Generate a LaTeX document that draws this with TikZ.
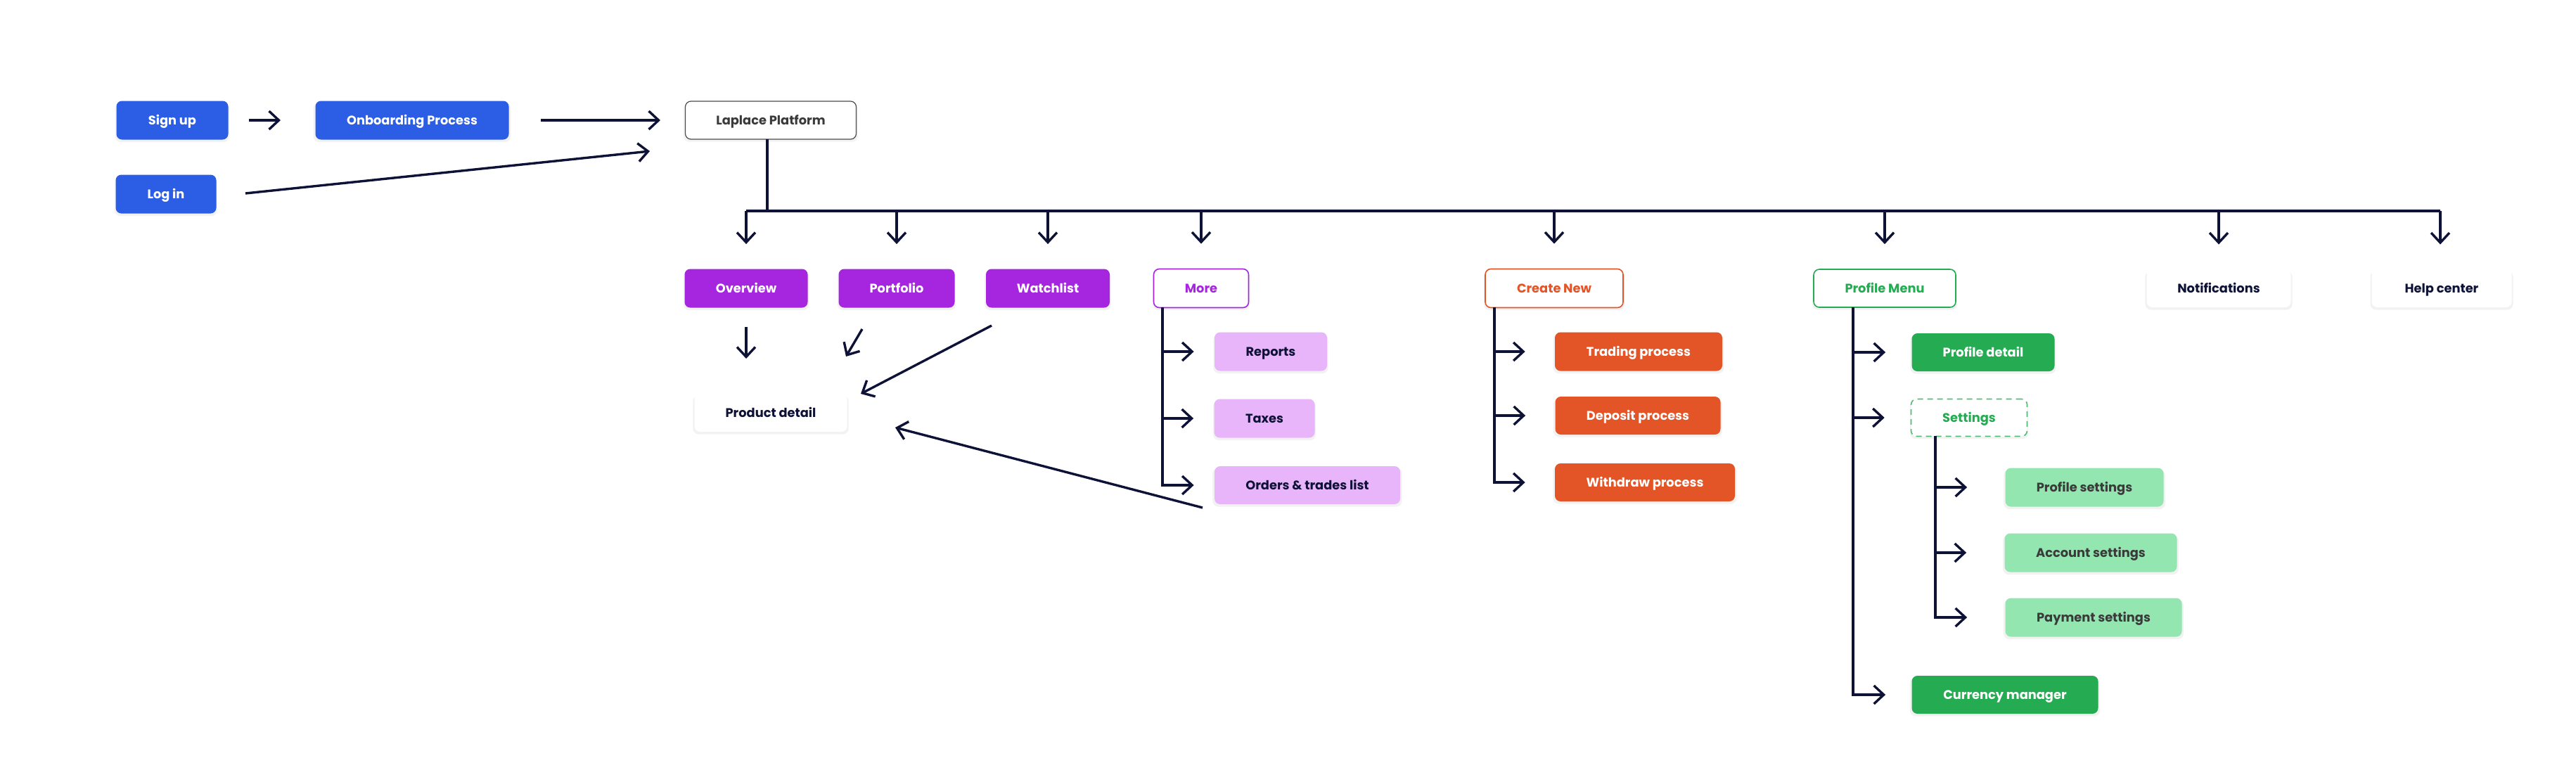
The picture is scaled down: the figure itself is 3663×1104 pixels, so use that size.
\documentclass[tikz,border=0pt]{standalone}
\usepackage{fontspec}
\setmainfont{Poppins}
\usetikzlibrary{arrows.meta,shadows,calc}
\definecolor{cblue}{HTML}{2B5DE5}
\definecolor{cpurple}{HTML}{A626E0}
\definecolor{clpurple}{HTML}{E8B5FA}
\definecolor{corange}{HTML}{E35427}
\definecolor{cgreen}{HTML}{25AC53}
\definecolor{clgreen}{HTML}{93E6B0}
\definecolor{cnavy}{HTML}{0E1236}
\definecolor{cgrey}{HTML}{3A3A3A}
\tikzset{
  box/.style={rounded corners=4pt, minimum height=27.5pt, inner sep=0pt, text height=7pt, text depth=0.5pt,
    font=\bfseries\fontsize{8.9}{10}\selectfont,
    drop shadow={opacity=0.10, shadow xshift=0pt, shadow yshift=-1.5pt, shadow scale=1.02}},
  bluebox/.style={box, fill=cblue, text=white},
  purplebox/.style={box, fill=cpurple, text=white},
  lpurplebox/.style={box, fill=clpurple, text=cnavy},
  orangebox/.style={box, fill=corange, text=white},
  greenbox/.style={box, fill=cgreen, text=white},
  lgreenbox/.style={box, fill=clgreen, text=cgrey},
  whitebox/.style={box, fill=white, text=cnavy},
  ln/.style={draw=cnavy, line width=1.7pt},
  arr/.style={ln, -{Straight Barb[length=7pt,width=13pt,line width=1.7pt]}},
}
\begin{document}
\begin{tikzpicture}[x=0.5pt,y=-0.5pt]
\useasboundingbox[fill=white] (0,0) rectangle (3663,1104);
% top row
\node[bluebox, minimum width=79.5pt] (signup) at (245,171) {Sign up};
\node[bluebox, minimum width=137.5pt] (onboard) at (586,171) {Onboarding Process};
\node[box, fill=white, draw=black!70, line width=0.6pt, text=cgrey, minimum width=121.5pt, minimum height=27pt] (laplace) at (1096,171) {Laplace Platform};
\node[bluebox, minimum width=71.5pt] (login) at (236,276) {Log in};
% second row
\node[purplebox, minimum width=87.5pt] (overview) at (1061,410) {Overview};
\node[purplebox, minimum width=82.5pt] (portfolio) at (1275,410) {Portfolio};
\node[purplebox, minimum width=88pt] (watchlist) at (1490,410) {Watchlist};
\node[box, fill=white, draw=cpurple, line width=0.8pt, text=cpurple, minimum width=67.5pt] (more) at (1708,410) {More};
\node[box, fill=white, draw=corange, line width=0.8pt, text=corange, minimum width=98pt] (createnew) at (2210,410) {Create New};
\node[box, fill=white, draw=cgreen, line width=0.8pt, text=cgreen, minimum width=101pt, minimum height=27pt] (profilemenu) at (2680,410) {Profile Menu};
\node[whitebox, minimum width=102.5pt, minimum height=27pt] (notifications) at (3155,410) {Notifications};
\node[whitebox, minimum width=99.5pt, minimum height=27pt] (helpcenter) at (3472,410) {Help center};
% product detail
\node[whitebox, minimum width=108.5pt, minimum height=27pt] (product) at (1096,587) {Product detail};
% more children
\node[lpurplebox, minimum width=80pt] (reports) at (1807,500) {Reports};
\node[lpurplebox, minimum width=71.5pt] (taxes) at (1798,595) {Taxes};
\node[lpurplebox, minimum width=132pt, minimum height=27pt] (orders) at (1859,690) {Orders \& trades list};
% create new children
\node[orangebox, minimum width=119pt] (trading) at (2330,500) {Trading process};
\node[orangebox, minimum width=117.5pt, minimum height=27pt] (deposit) at (2329,591) {Deposit process};
\node[orangebox, minimum width=128pt, minimum height=27pt] (withdraw) at (2339,686) {Withdraw process};
% profile menu children
\node[greenbox, minimum width=101.5pt, minimum height=27pt] (profiledetail) at (2820,501) {Profile detail};
\node[box, fill=white, draw=cgreen!80, dashed, dash pattern=on 4pt off 3pt, line width=0.8pt, text=cgreen, minimum width=82.5pt, minimum height=26.5pt] (settings) at (2800,594) {Settings};
\node[lgreenbox, minimum width=112.5pt] (profilesettings) at (2964,693) {Profile settings};
\node[lgreenbox, minimum width=122.5pt] (accountsettings) at (2973,786) {Account settings};
\node[lgreenbox, minimum width=125.5pt] (paymentsettings) at (2977,878) {Payment settings};
\node[greenbox, minimum width=132.5pt, minimum height=27pt] (currency) at (2851,988) {Currency manager};

% coordinates
\coordinate (a1s) at (354,171); \coordinate (a1e) at (399,171);
\coordinate (a2s) at (769,171); \coordinate (a2e) at (939,171);
\coordinate (a3s) at (349,275); \coordinate (a3e) at (924,215);
\coordinate (bus) at (1061,300); \coordinate (busend) at (3470,300);
\coordinate (ovs) at (1061,465); \coordinate (ove) at (1061,510);
\coordinate (pfs) at (1226,468); \coordinate (pfe) at (1203,507);
\coordinate (wls) at (1410,463); \coordinate (wle) at (1224,560);
\coordinate (ors) at (1710,722); \coordinate (ore) at (1273,608);
\coordinate (mt) at (1653,437);
\coordinate (ct) at (2125,437);
\coordinate (pt) at (2635,437);
\coordinate (st) at (2752,620);
\coordinate (lpl) at (1091,198);

% connectors
\draw[arr] (a1s) -- (a1e);
\draw[arr] (a2s) -- (a2e);
\draw[arr] (a3s) -- (a3e);
\draw[ln] (lpl) -- (lpl |- bus);
\draw[ln, line width=2pt] (bus) -- (busend);
\foreach \n in {overview,portfolio,watchlist,more,createnew,profilemenu,notifications}
  \draw[arr] (\n.north |- bus) -- ([yshift=17.5pt]\n.north);
\draw[arr] (busend) -- ([yshift=17.5pt]busend |- helpcenter.north);
\draw[arr] (ovs) -- (ove);
\draw[arr] (pfs) -- (pfe);
\draw[arr] (wls) -- (wle);
\draw[arr] (ors) -- (ore);
% more branch
\draw[arr] (mt) |- ([xshift=-14.5pt]orders.west);
\foreach \n in {reports,taxes}
  \draw[arr] (mt |- \n.west) -- ([xshift=-14.5pt]\n.west);
% create new branch
\draw[arr] (ct) |- ([xshift=-21pt]withdraw.west);
\foreach \n in {trading,deposit}
  \draw[arr] (ct |- \n.west) -- ([xshift=-21pt]\n.west);
% profile menu branch
\draw[arr] (pt) |- ([xshift=-18.5pt]currency.west);
\foreach \n in {profiledetail,settings}
  \draw[arr] (pt |- \n.west) -- ([xshift=-18.5pt]\n.west);
% settings branch
\draw[arr] (st) |- ([xshift=-27pt]paymentsettings.west);
\foreach \n in {profilesettings,accountsettings}
  \draw[arr] (st |- \n.west) -- ([xshift=-27pt]\n.west);
\end{tikzpicture}
\end{document}
